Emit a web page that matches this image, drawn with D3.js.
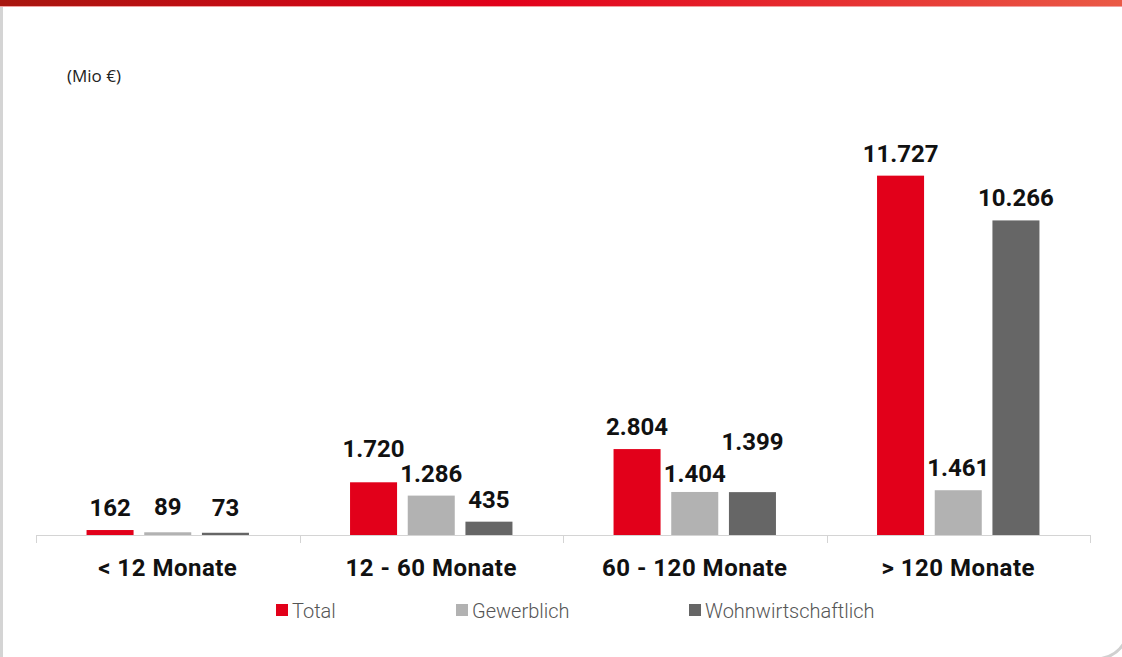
<html>

<head>
  <title>Restlaufzeiten</title>
  <script src="https://d3js.org/d3.v7.min.js"></script>
  <style>
    body {
      margin: 0;
      background: #fff;
    }

    .unit-label {
      font-family: 'Open Sans', 'Noto Sans', sans-serif;
      font-size: 17px;
      fill: #222;
    }

    .value-label {
      font-family: Roboto, sans-serif;
      font-weight: bold;
      font-size: 24px;
      fill: #111;
      text-anchor: middle;
    }

    .x.axis text {
      font-family: Roboto, sans-serif;
      font-weight: bold;
      font-size: 24px;
      letter-spacing: 0.5px;
      fill: #111;
    }

    .x.axis line,
    .x.axis .domain {
      stroke: #d4d4d4;
    }

    .legend text {
      font-family: Roboto, sans-serif;
      font-weight: 300;
      font-size: 20px;
      fill: #555;
    }
  </style>
</head>

<body>
  <svg id="chart" width="1122" height="657"></svg>

  <script>
    // data
    const categories = ["< 12 Monate", "12 - 60 Monate", "60 - 120 Monate", "> 120 Monate"];
    const seriesNames = ["Total", "Gewerblich", "Wohnwirtschaftlich"];
    const totalValues = [162, 1720, 2804, 11727];
    const gewerblichValues = [89, 1286, 1404, 1461];
    const wohnValues = [73, 435, 1399, 10266];
    const seriesColors = ["#e2001a", "#b2b2b2", "#666666"];

    const allValues = [totalValues, gewerblichValues, wohnValues];

    const svg = d3.select("svg#chart");
    const width = +svg.attr("width");
    const height = +svg.attr("height");
    const margin = { top: 106, right: 32, bottom: 122, left: 36 };
    const chartWidth = width - margin.left - margin.right;
    const chartHeight = height - margin.top - margin.bottom;

    // card frame: red gradient top bar, grey left edge, rounded corner
    const defs = svg.append("defs");
    const grad = defs.append("linearGradient").attr("id", "topGrad");
    grad.append("stop").attr("offset", "0%").attr("stop-color", "#a8170f");
    grad.append("stop").attr("offset", "45%").attr("stop-color", "#e2001a");
    grad.append("stop").attr("offset", "100%").attr("stop-color", "#ea5a46");

    svg.append("rect")
      .attr("x", 0).attr("y", 0)
      .attr("width", width).attr("height", 6)
      .attr("fill", "url(#topGrad)");
    svg.append("rect")
      .attr("x", 0).attr("y", 6)
      .attr("width", width).attr("height", 1)
      .attr("fill", "#f2a0a0");
    svg.append("rect")
      .attr("x", 0).attr("y", 7)
      .attr("width", 3).attr("height", height - 7)
      .attr("fill", "#d4d4d4");
    svg.append("path")
      .attr("d", "M1098,659 Q1116,657 1124,643")
      .attr("fill", "none")
      .attr("stroke", "#d0d0d0")
      .attr("stroke-width", 3);

    svg.append("text")
      .attr("class", "unit-label")
      .attr("x", 67)
      .attr("y", 82)
      .text("(Mio €)");

    // scales
    const xScale = d3.scaleBand()
      .domain(categories)
      .range([0, chartWidth]);

    const innerScale = d3.scaleBand()
      .domain(seriesNames)
      .range([0, xScale.bandwidth()])
      .paddingInner(0.185)
      .paddingOuter(0.876);

    const yScale = d3.scaleLinear()
      .domain([0, 14000])
      .range([chartHeight, 0]);

    const colorScale = d3.scaleOrdinal()
      .domain(seriesNames)
      .range(seriesColors);

    const chartArea = svg.append("g")
      .attr("transform", "translate(" + margin.left + "," + margin.top + ")");

    // flat table for the bars
    const rows = [];
    categories.forEach((c, i) => {
      seriesNames.forEach((s, j) => {
        rows.push({ category: c, series: s, value: allValues[j][i] });
      });
    });

    chartArea.selectAll("rect.bar")
      .data(rows)
      .enter()
      .append("rect")
      .attr("class", "bar")
      .attr("x", d => xScale(d.category) + innerScale(d.series))
      .attr("y", d => yScale(d.value))
      .attr("width", innerScale.bandwidth())
      .attr("height", d => chartHeight - yScale(d.value))
      .attr("fill", d => colorScale(d.series));

    // a few labels were nudged by hand in the original
    const labelShift = {
      "< 12 Monate|Gewerblich": -3,
      "< 12 Monate|Wohnwirtschaftlich": -3,
      "12 - 60 Monate|Total": -11,
      "60 - 120 Monate|Gewerblich": 4,
      "60 - 120 Monate|Wohnwirtschaftlich": -28
    };

    chartArea.selectAll("text.value-label")
      .data(rows)
      .enter()
      .append("text")
      .attr("class", "value-label")
      .attr("x", d => xScale(d.category) + innerScale(d.series) + innerScale.bandwidth() / 2)
      .attr("y", d => yScale(d.value) - 14 + (labelShift[d.category + "|" + d.series] || 0))
      .text(d => d3.format(",")(d.value).replace(/,/g, "."));

    // x axis with ticks between categories
    const xAxis = chartArea.append("g")
      .attr("class", "x axis")
      .attr("transform", "translate(0," + chartHeight + ")");

    xAxis.append("line")
      .attr("class", "domain")
      .attr("x1", 0).attr("x2", chartWidth)
      .attr("y1", 0.5).attr("y2", 0.5);

    const tickPos = categories.map(c => xScale(c)).concat([chartWidth]);
    xAxis.selectAll("line.tick")
      .data(tickPos)
      .enter()
      .append("line")
      .attr("class", "tick")
      .attr("x1", d => Math.round(d) + 0.5)
      .attr("x2", d => Math.round(d) + 0.5)
      .attr("y1", 0)
      .attr("y2", 8);

    xAxis.selectAll("text")
      .data(categories)
      .enter()
      .append("text")
      .attr("x", d => xScale(d) + xScale.bandwidth() / 2)
      .attr("y", 41)
      .attr("text-anchor", "middle")
      .text(d => d);

    // legend
    const legendX = [276, 456, 689];
    const legend = svg.append("g").attr("class", "legend");
    const legendItems = legend.selectAll("g")
      .data(seriesNames)
      .enter()
      .append("g")
      .attr("transform", (d, i) => "translate(" + legendX[i] + ",604)");

    legendItems.append("rect")
      .attr("width", 12)
      .attr("height", 12)
      .attr("fill", d => colorScale(d));

    legendItems.append("text")
      .attr("x", 16)
      .attr("y", 14)
      .text(d => d);
  </script>
</body>

</html>
